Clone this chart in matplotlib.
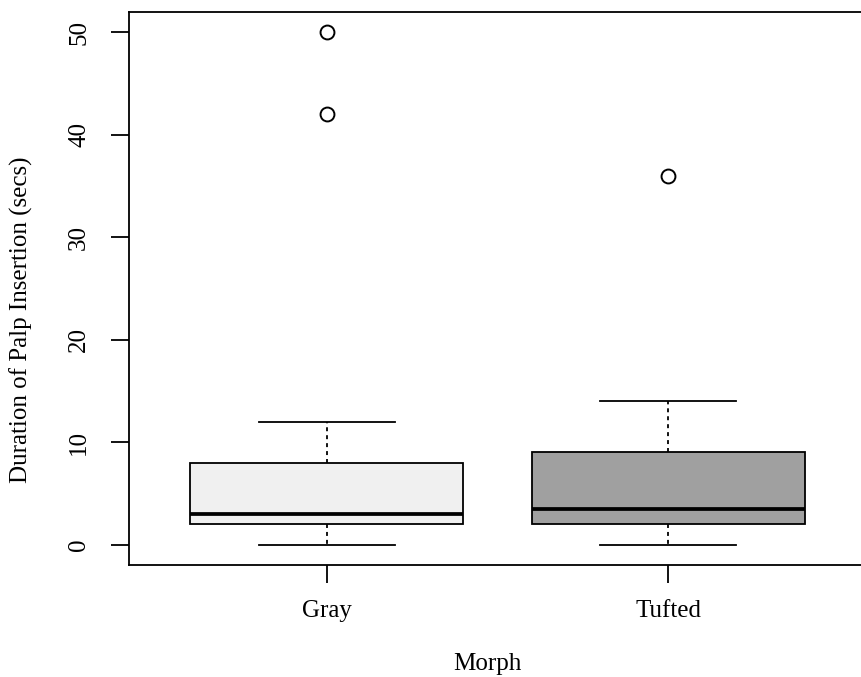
import matplotlib
matplotlib.use("Agg")
import matplotlib.pyplot as plt

# box statistics
morphs = ["Gray", "Tufted"]
low_whisker = [0, 0]
q1 = [2, 2]
median = [3, 3.5]
q3 = [8, 9]
high_whisker = [12, 14]
outliers = [[42, 50], [36]]
fills = ["#f0f0f0", "#a0a0a0"]

plt.rcParams['font.family'] = ['Liberation Serif', 'DejaVu Serif']

stats = []
for i, name in enumerate(morphs):
    stats.append(dict(label=name, whislo=low_whisker[i], q1=q1[i], med=median[i],
                      q3=q3[i], whishi=high_whisker[i], fliers=outliers[i]))

fig = plt.figure(figsize=(8.61, 6.77), dpi=100)
ax = fig.add_axes([0.1498, 0.1654, 0.8560, 0.8169])

bp = ax.bxp(stats, positions=[1, 2], widths=0.8, capwidths=0.4, patch_artist=True,
            boxprops=dict(edgecolor='black', linewidth=1.3),
            medianprops=dict(color='black', linewidth=2.7),
            whiskerprops=dict(color='black', linewidth=1.3, linestyle=(0, (2.2, 2.2))),
            capprops=dict(color='black', linewidth=1.3),
            flierprops=dict(marker='o', markersize=10, markerfacecolor='none',
                            markeredgecolor='black', markeredgewidth=1.4))
for patch, c in zip(bp['boxes'], fills):
    patch.set_facecolor(c)

ax.set_xlim(0.42, 2.58)
ax.set_ylim(-2, 52)
ax.set_yticks([0, 10, 20, 30, 40, 50])
ax.set_xticks([1, 2])
ax.set_xticklabels(morphs)
for lab in ax.get_yticklabels():
    lab.set_rotation(90)
    lab.set_va('center')
ax.tick_params(length=13, width=1.3, labelsize=18)
ax.tick_params(axis='x', pad=12)
ax.tick_params(axis='y', pad=15)
for s in ax.spines.values():
    s.set_linewidth(1.3)

ax.set_xlabel("Morph", fontsize=18, va='center')
ax.xaxis.set_label_coords(0.487, -0.179)
ax.set_ylabel("Duration of Palp Insertion (secs)", fontsize=18, va='center')
ax.yaxis.set_label_coords(-0.146, 0.443)

fig.savefig("out.png", dpi=100)
